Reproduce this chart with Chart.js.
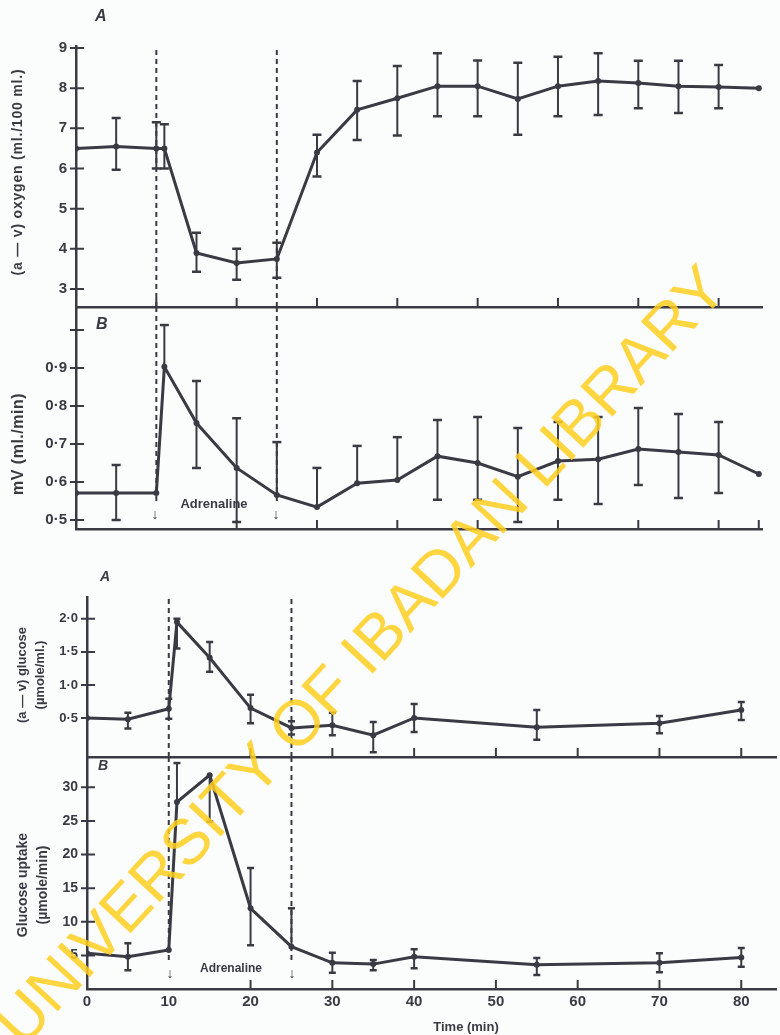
<!DOCTYPE html>
<html>
<head>
<meta charset="utf-8">
<script src="https://cdn.jsdelivr.net/npm/chart.js@4.4.1/dist/chart.umd.min.js"></script>
<style>
    body { margin: 0; background: #fbfcfc; }
    #wrap { position: relative; width: 780px; height: 1035px; overflow: hidden;
            font-family: "Liberation Sans", Arial, sans-serif; color: #3a3a44; font-weight: bold; }
    canvas { position: absolute; left: 0; top: 0; }
    .txt { position: absolute; white-space: nowrap; }
    .rot { position: absolute; white-space: nowrap; text-align: center; transform: translate(-50%, -50%) rotate(-90deg); }
    .ctr { position: absolute; white-space: nowrap; transform: translate(-50%, -50%); }
    #mark { position: absolute; left: 360px; top: 655px; white-space: nowrap; font-weight: normal;
            font-size: 64px; color: rgba(255, 206, 30, 0.85); transform: translate(-50%, -50%) rotate(-47deg); }
</style>
</head>
<body>
<div id="wrap">
    <canvas id="oxyChart" width="780" height="1035"></canvas>
    <canvas id="flowChart" width="780" height="1035"></canvas>
    <canvas id="avGlucoseChart" width="780" height="1035"></canvas>
    <canvas id="uptakeChart" width="780" height="1035"></canvas>

    <div class="txt" style="left:95px;top:7px;font-size:16px;font-style:italic;">A</div>
    <div class="txt" style="left:96px;top:315px;font-size:16px;font-style:italic;">B</div>
    <div class="txt" style="left:100px;top:568px;font-size:14px;font-style:italic;">A</div>
    <div class="txt" style="left:98px;top:757px;font-size:14px;font-style:italic;">B</div>

    <div class="rot" style="left:17px;top:172px;font-size:14px;letter-spacing:0.8px;">(a — v) oxygen (ml./100 ml.)</div>
    <div class="rot" style="left:18px;top:444px;font-size:16px;letter-spacing:0.5px;">mV (ml./min)</div>
    <div class="rot" style="left:31px;top:675px;font-size:13px;line-height:18px;">(a — v) glucose<br>(µmole/ml.)</div>
    <div class="rot" style="left:32px;top:885px;font-size:14px;line-height:20px;">Glucose uptake<br>(µmole/min)</div>

    <div class="ctr" style="left:214px;top:503px;font-size:13px;">Adrenaline</div>
    <div class="ctr" style="left:231px;top:968px;font-size:12px;">Adrenaline</div>
    <div class="ctr" style="left:155px;top:514px;font-size:14px;">↓</div>
    <div class="ctr" style="left:276px;top:514px;font-size:14px;">↓</div>
    <div class="ctr" style="left:170px;top:973px;font-size:14px;">↓</div>
    <div class="ctr" style="left:292px;top:973px;font-size:14px;">↓</div>

    <div class="ctr" style="left:466px;top:1026px;font-size:13px;">Time (min)</div>

    <div id="mark">UNIVERSITY OF IBADAN LIBRARY</div>
</div>

<script>
const INK = '#3a3a44';

// adrenaline infusion start / stop (min)
const adrenalineOn = [10, 25];

// upper figure: (a-v) oxygen and mV
const timeTop = [0, 5, 10, 11, 15, 20, 25, 30, 35, 40, 45, 50, 55, 60, 65, 70, 75, 80, 85];
const oxygen = [6.5, 6.55, 6.5, 6.5, 3.9, 3.65, 3.75, 6.4, 7.46, 7.75, 8.05, 8.05, 7.73, 8.05, 8.18, 8.13, 8.05, 8.03, 8.0];
const oxygenHi = [0, 0.71, 0.65, 0.6, 0.5, 0.35, 0.4, 0.44, 0.72, 0.8, 0.82, 0.64, 0.9, 0.73, 0.69, 0.55, 0.63, 0.55, 0];
const oxygenLo = [0, 0.58, 0.5, 0.5, 0.47, 0.42, 0.47, 0.6, 0.75, 0.93, 0.75, 0.75, 0.89, 0.75, 0.85, 0.63, 0.67, 0.53, 0];
const flow = [0.571, 0.571, 0.571, 0.903, 0.755, 0.637, 0.566, 0.534, 0.597, 0.605, 0.668, 0.65, 0.614, 0.655, 0.66, 0.687, 0.679, 0.671, 0.621];
const flowHi = [0, 0.074, 0, 0.11, 0.111, 0.131, 0.139, 0.103, 0.098, 0.113, 0.095, 0.121, 0.128, 0.103, 0.111, 0.108, 0.1, 0.087, 0];
const flowLo = [0, 0.071, 0, 0, 0.118, 0.142, 0, 0, 0, 0, 0.115, 0.097, 0.119, 0.102, 0.118, 0.095, 0.121, 0.1, 0];

// lower figure: (a-v) glucose and glucose uptake
const timeBottom = [0, 5, 10, 11, 15, 20, 25, 30, 35, 40, 55, 70, 80];
const avGlucose = [0.5, 0.48, 0.64, 1.95, 1.41, 0.65, 0.35, 0.39, 0.24, 0.5, 0.36, 0.42, 0.62];
const avGlucoseHi = [0, 0.1, 0.15, 0.05, 0.24, 0.2, 0.1, 0.19, 0.2, 0.21, 0.26, 0.11, 0.12];
const avGlucoseLo = [0, 0.14, 0.15, 0.4, 0.21, 0.23, 0.1, 0.15, 0.26, 0.21, 0.19, 0.15, 0.15];
const uptake = [5.3, 4.8, 5.8, 27.8, 31.8, 12, 6.3, 3.9, 3.7, 4.8, 3.6, 3.9, 4.7];
const uptakeHi = [0, 2, 0, 5.8, 0, 6, 5.7, 1.5, 0.6, 1.1, 1, 1.4, 1.4];
const uptakeLo = [0, 2, 0, 0, 6.9, 5.5, 0, 1.5, 0.9, 1.7, 1.5, 1.4, 1.4];

// tick values and labels
const oxygenTicks = [3, 4, 5, 6, 7, 8, 9];
const oxygenLabels = ['3', '4', '5', '6', '7', '8', '9'];
const flowTicks = [0.5, 0.6, 0.7, 0.8, 0.9, 1.0];
const flowLabels = ['0·5', '0·6', '0·7', '0·8', '0·9', ''];
const avGlucoseTicks = [0.5, 1.0, 1.5, 2.0];
const avGlucoseLabels = ['0·5', '1·0', '1·5', '2·0'];
const uptakeTicks = [5, 10, 15, 20, 25, 30];
const uptakeLabels = ['5', '10', '15', '20', '25', '30'];
const timeTicks = [0, 10, 20, 30, 40, 50, 60, 70, 80];
const timeLabels = ['0', '10', '20', '30', '40', '50', '60', '70', '80'];

// error bars and inward tick marks
const errorBars = {
    id: 'errorBars',
    afterDatasetsDraw(chart, args, opts) {
        const {ctx, scales: {x, y}} = chart;
        ctx.save();
        ctx.strokeStyle = INK;
        chart.data.datasets.forEach(ds => {
            if (!ds.errHi) return;
            ds.data.forEach((p, i) => {
                const hi = ds.errHi[i], lo = ds.errLo[i];
                if (!hi && !lo) return;
                const px = x.getPixelForValue(p.x);
                const yTop = y.getPixelForValue(p.y + hi);
                const yBot = y.getPixelForValue(p.y - lo);
                ctx.lineWidth = 2;
                ctx.beginPath();
                ctx.moveTo(px, yTop);
                ctx.lineTo(px, yBot);
                ctx.stroke();
                ctx.lineWidth = 2.5;
                ctx.beginPath();
                if (hi) { ctx.moveTo(px - opts.cap, yTop); ctx.lineTo(px + opts.cap, yTop); }
                if (lo) { ctx.moveTo(px - opts.cap, yBot); ctx.lineTo(px + opts.cap, yBot); }
                ctx.stroke();
            });
        });
        ctx.restore();
    },
    afterDraw(chart, args, opts) {
        const {ctx, chartArea: a, scales: {x, y}} = chart;
        ctx.save();
        ctx.strokeStyle = INK;
        ctx.lineWidth = 2;
        ctx.beginPath();
        y.ticks.forEach(t => {
            const py = y.getPixelForValue(t.value);
            ctx.moveTo(a.left - 6, py);
            ctx.lineTo(a.left + 8, py);
        });
        (opts.xMarks || []).forEach(v => {
            const px = x.getPixelForValue(v);
            ctx.moveTo(px, a.bottom);
            ctx.lineTo(px, a.bottom - 9);
        });
        ctx.stroke();
        ctx.restore();
    }
};

function makePanel(id, p) {
    const series = {
        data: p.time.map((t, i) => ({x: t, y: p.values[i]})),
        errHi: p.hi,
        errLo: p.lo,
        borderColor: INK,
        borderWidth: 3,
        pointRadius: 3,
        pointBackgroundColor: INK,
        pointBorderWidth: 0,
        tension: 0
    };
    const dashed = adrenalineOn.map(t => ({
        data: [{x: t, y: p.dashTop}, {x: t, y: p.dashBottom}],
        borderColor: INK,
        borderWidth: 2,
        borderDash: [5, 4],
        pointRadius: 0
    }));
    return new Chart(document.getElementById(id), {
        type: 'line',
        data: { datasets: [...dashed, series] },
        plugins: [errorBars],
        options: {
            responsive: false,
            animation: false,
            layout: { padding: { left: 0, top: p.area.top, right: 780 - p.area.right, bottom: 0 } },
            plugins: {
                legend: { display: false },
                tooltip: { enabled: false },
                errorBars: { xMarks: p.xMarks, cap: p.cap }
            },
            scales: {
                x: {
                    type: 'linear',
                    min: p.xMin,
                    max: p.xMax,
                    grid: { display: false, drawTicks: false },
                    border: { display: true, color: INK, width: 2.5 },
                    ticks: {
                        display: !!p.xLabels,
                        color: INK,
                        padding: 4,
                        font: { family: "'Liberation Sans', Arial, sans-serif", size: 15, weight: 'bold' },
                        callback: (v, i) => p.xLabels ? p.xLabels[i] : ''
                    },
                    afterBuildTicks: s => { s.ticks = timeTicks.map(v => ({value: v})); },
                    afterFit: s => { s.height = 1035 - p.area.bottom; }
                },
                y: {
                    min: p.yMin,
                    max: p.yMax,
                    grid: { display: false, drawTicks: false },
                    border: { display: true, color: INK, width: 2.5 },
                    ticks: {
                        color: INK,
                        padding: 9,
                        font: { family: "'Liberation Sans', Arial, sans-serif", size: p.tickSize, weight: 'bold' },
                        callback: (v, i) => p.yLabels[i]
                    },
                    afterBuildTicks: s => { s.ticks = p.yTicks.map(v => ({value: v})); },
                    afterFit: s => { s.width = p.area.left; }
                }
            }
        }
    });
}

window.addEventListener('DOMContentLoaded', function() {
    makePanel('oxyChart', {
        area: { left: 76, right: 762, top: 46, bottom: 307 },
        xMin: 0, xMax: 85.4, yMin: 2.553, yMax: 9.05,
        time: timeTop, values: oxygen, hi: oxygenHi, lo: oxygenLo,
        yTicks: oxygenTicks, yLabels: oxygenLabels, tickSize: 15,
        xMarks: [10, 20, 30, 40, 50, 60, 70, 80],
        dashTop: 8.95, dashBottom: 2.553, cap: 4.5
    });
    makePanel('flowChart', {
        area: { left: 76, right: 762, top: 307, bottom: 529 },
        xMin: 0, xMax: 85.4, yMin: 0.4763, yMax: 1.0605,
        time: timeTop, values: flow, hi: flowHi, lo: flowLo,
        yTicks: flowTicks, yLabels: flowLabels, tickSize: 15,
        xMarks: [20, 30, 40, 50, 60, 70, 80, 85],
        dashTop: 1.0605, dashBottom: 0.55, cap: 4.5
    });
    makePanel('avGlucoseChart', {
        area: { left: 87, right: 780, top: 597, bottom: 757 },
        xMin: 0, xMax: 84.25, yMin: -0.09, yMax: 2.33,
        time: timeBottom, values: avGlucose, hi: avGlucoseHi, lo: avGlucoseLo,
        yTicks: avGlucoseTicks, yLabels: avGlucoseLabels, tickSize: 13,
        xMarks: [20, 30, 40, 50, 60, 70, 80],
        dashTop: 2.3, dashBottom: -0.09, cap: 3.5
    });
    makePanel('uptakeChart', {
        area: { left: 87, right: 780, top: 757, bottom: 989 },
        xMin: 0, xMax: 84.25, yMin: 0, yMax: 34.5,
        time: timeBottom, values: uptake, hi: uptakeHi, lo: uptakeLo,
        yTicks: uptakeTicks, yLabels: uptakeLabels, tickSize: 14,
        xMarks: [20, 30, 40, 50, 60, 70, 80],
        xLabels: timeLabels,
        dashTop: 34.5, dashBottom: 4.3, cap: 3.5
    });
});
</script>
</body>
</html>
